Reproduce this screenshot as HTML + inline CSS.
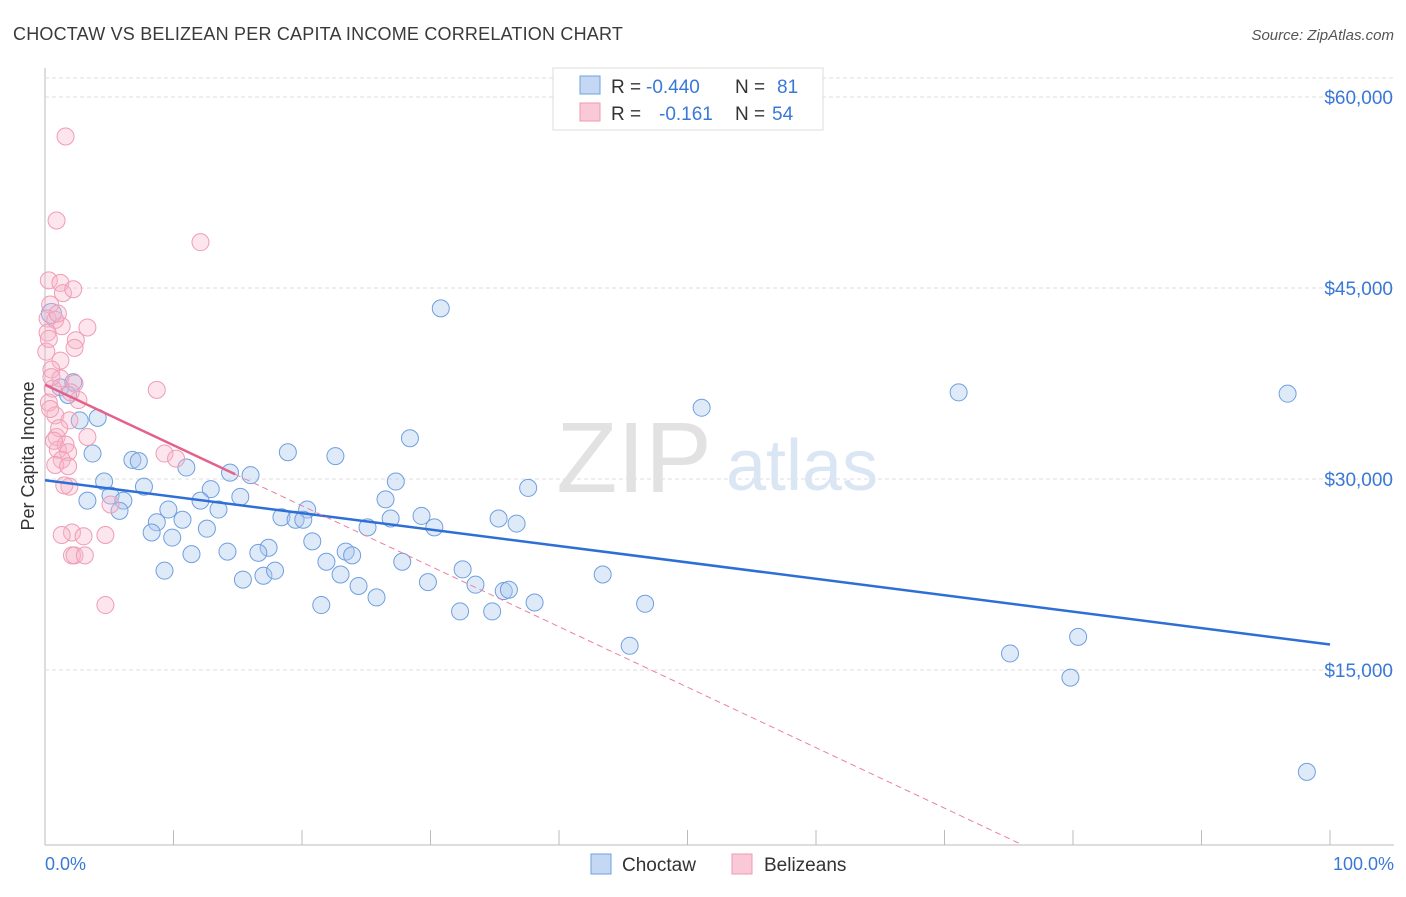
<!DOCTYPE html>
<html><head><meta charset="utf-8"><style>
body{margin:0;background:#fff;font-family:"Liberation Sans",sans-serif}
svg text{font-family:"Liberation Sans",sans-serif}
</style></head><body>
<svg width="1406" height="892">
<text x="13" y="40" font-size="18" fill="#3a3a3a" letter-spacing="0.2">CHOCTAW VS BELIZEAN PER CAPITA INCOME CORRELATION CHART</text>
<text x="1394" y="40" font-size="15" fill="#555" font-style="italic" text-anchor="end">Source: ZipAtlas.com</text>
<g id="grid"></g>
<text x="634" y="492" font-size="100" fill="#e2e2e2" font-family="Liberation Serif" text-anchor="middle">ZIP</text>
<text x="802" y="490" font-size="72" fill="#dbe6f5" text-anchor="middle">atlas</text>
<g id="pts"></g><g id="lines"></g>
<text x="34" y="456" font-size="18" fill="#333" text-anchor="middle" transform="rotate(-90 34 456)">Per Capita Income</text>
<text x="45" y="870" font-size="18" fill="#3a78d8">0.0%</text>
<text x="1394" y="870" font-size="18" fill="#3a78d8" text-anchor="end">100.0%</text>
<g>
<rect x="553" y="68" width="270" height="62" fill="#fff" stroke="#ddd"/>
<rect x="580" y="76" width="20" height="18" fill="#c4d8f3" stroke="#6f9fe0"/>
<rect x="580" y="103" width="20" height="18" fill="#f9c9d7" stroke="#ee9ab3"/>
<text y="93" font-size="19" fill="#333"><tspan x="611">R =</tspan><tspan x="646" fill="#3a78d8">-0.440</tspan><tspan x="735">N =</tspan><tspan x="777" fill="#3a78d8">81</tspan></text>
<text y="120" font-size="19" fill="#333"><tspan x="611">R =</tspan><tspan x="659" fill="#3a78d8">-0.161</tspan><tspan x="735">N =</tspan><tspan x="772" fill="#3a78d8">54</tspan></text>
</g>
<g>
<rect x="591" y="854" width="20" height="20" fill="#c4d8f3" stroke="#6f9fe0"/>
<text x="622" y="871" font-size="19" fill="#333">Choctaw</text>
<rect x="732" y="854" width="20" height="20" fill="#f9c9d7" stroke="#ee9ab3"/>
<text x="764" y="871" font-size="19" fill="#333">Belizeans</text>
</g>
</svg>
<script>
const yTicks=[15000,30000,45000,60000];
const yTickLabels=["$15,000","$30,000","$45,000","$60,000"];
const xTicks=[0,10,20,30,40,50,60,70,80,90,100];
const blueX=[0.5,30.8,71.1,96.7,51.1,2.2,1.2,1.8,4.1,2.7,3.7,6.8,7.3,18.9,22.6,28.4,11.0,14.4,16.0,27.3,37.6,4.6,7.7,5.1,6.1,3.3,12.9,12.1,15.2,26.5,5.8,9.6,13.5,20.4,18.4,19.5,20.1,26.9,29.3,35.3,36.7,8.7,10.7,12.6,8.3,9.9,25.1,30.3,20.8,11.4,14.2,17.4,16.6,23.4,23.9,21.9,27.8,9.3,15.4,17.0,17.9,23.0,24.4,25.8,29.8,32.5,33.5,35.7,36.1,38.1,21.5,32.3,34.8,43.4,46.7,45.5,75.1,80.4,79.8,98.2];
const blueY=[43.0,43.4,36.8,36.7,35.6,37.6,37.2,36.6,34.8,34.6,32.0,31.5,31.4,32.1,31.8,33.2,30.9,30.5,30.3,29.8,29.3,29.8,29.4,28.7,28.3,28.3,29.2,28.3,28.6,28.4,27.5,27.6,27.6,27.6,27.0,26.8,26.8,26.9,27.1,26.9,26.5,26.6,26.8,26.1,25.8,25.4,26.2,26.2,25.1,24.1,24.3,24.6,24.2,24.3,24.0,23.5,23.5,22.8,22.1,22.4,22.8,22.5,21.6,20.7,21.9,22.9,21.7,21.2,21.3,20.3,20.1,19.6,19.6,22.5,20.2,16.9,16.3,17.6,14.4,7.0];
const pinkX=[1.6,0.9,12.1,0.3,1.2,1.4,2.2,0.4,0.2,0.8,1.3,3.3,0.2,2.4,2.3,1.2,0.5,1.2,2.3,0.6,8.7,0.3,0.8,1.9,0.9,3.3,1.6,1.0,1.8,1.3,0.8,9.3,10.2,1.9,5.1,2.1,1.3,3.0,4.7,2.1,2.3,3.1,4.7,1.8,0.1,0.5,2.6,1.1,0.7,1.5,0.3,2.0,1.0,0.4];
const pinkY=[56.9,50.3,48.6,45.6,45.4,44.6,44.9,43.7,42.6,42.5,42.0,41.9,41.5,40.9,40.3,39.3,38.6,37.9,37.5,37.1,37.0,36.0,35.0,34.6,33.3,33.3,32.7,32.3,32.1,31.5,31.1,32.0,31.6,29.4,28.0,25.8,25.6,25.5,25.6,24.0,24.0,24.0,20.1,31.0,40.0,38.0,36.2,34.0,33.0,29.5,41.0,36.8,43.0,35.5];
const blueTrend=[29.9,17.0];
const pinkTrend=[37.4,-0.475];
const X=v=>45+v*12.85, Y=v=>861-v*191/15000;
const NS="http://www.w3.org/2000/svg";
function mk(t,a,p){const e=document.createElementNS(NS,t);for(const k in a)e.setAttribute(k,a[k]);p.appendChild(e);return e;}
const g=document.getElementById('grid');
let ax=mk('line',{x1:45,y1:68,x2:45,y2:845,stroke:'#bbb'},g);

let bx=mk('line',{x1:45,y1:845,x2:1394,y2:845,stroke:'#bbb'},g);

mk('line',{x1:45,y1:78,x2:1394,y2:78,stroke:'#ddd','stroke-dasharray':'4 3'},g);
yTicks.forEach((t,i)=>{
 const l=mk('line',{x1:45,y1:Y(t),x2:1394,y2:Y(t),stroke:'#ddd','stroke-dasharray':'4 3'},g);
 
 const tx=mk('text',{x:1393,y:Y(t)+7,'font-size':19,fill:'#3a78d8','text-anchor':'end'},g);
 tx.textContent=yTickLabels[i];
 
});
xTicks.forEach(t=>{
 const l=mk('line',{x1:X(t),y1:830,x2:X(t),y2:845,stroke:'#bbb'},g);
 
});
const P=document.getElementById('pts');
blueX.forEach((x,i)=>{
 const c=mk('circle',{cx:X(x),cy:Y(blueY[i]*1000),r:i==0?10:8.5,fill:'rgba(170,200,240,0.38)',stroke:'#6f9fe0','stroke-width':1},P);
 
});
pinkX.forEach((x,i)=>{
 const c=mk('circle',{cx:X(x),cy:Y(pinkY[i]*1000),r:8.5,fill:'rgba(246,180,200,0.35)',stroke:'#f09cb6','stroke-width':1},P);
 
});
const L=document.getElementById('lines');
let bl=mk('line',{x1:X(0),y1:Y(blueTrend[0]*1000),x2:X(100),y2:Y(blueTrend[1]*1000),stroke:'#2e6fd6','stroke-width':2.5},L);

const pe=(-pinkTrend[0]+1.3)/pinkTrend[1];
let pd=mk('line',{x1:X(14.8),y1:Y((pinkTrend[0]+pinkTrend[1]*14.8)*1000),x2:X(pe),y2:Y(1300),stroke:'#e9819f','stroke-width':1,'stroke-dasharray':'6 4'},L);

let pl=mk('line',{x1:X(0),y1:Y(pinkTrend[0]*1000),x2:X(14.8),y2:Y((pinkTrend[0]+pinkTrend[1]*14.8)*1000),stroke:'#e4618a','stroke-width':2.5},L);

</script>
</body></html>
